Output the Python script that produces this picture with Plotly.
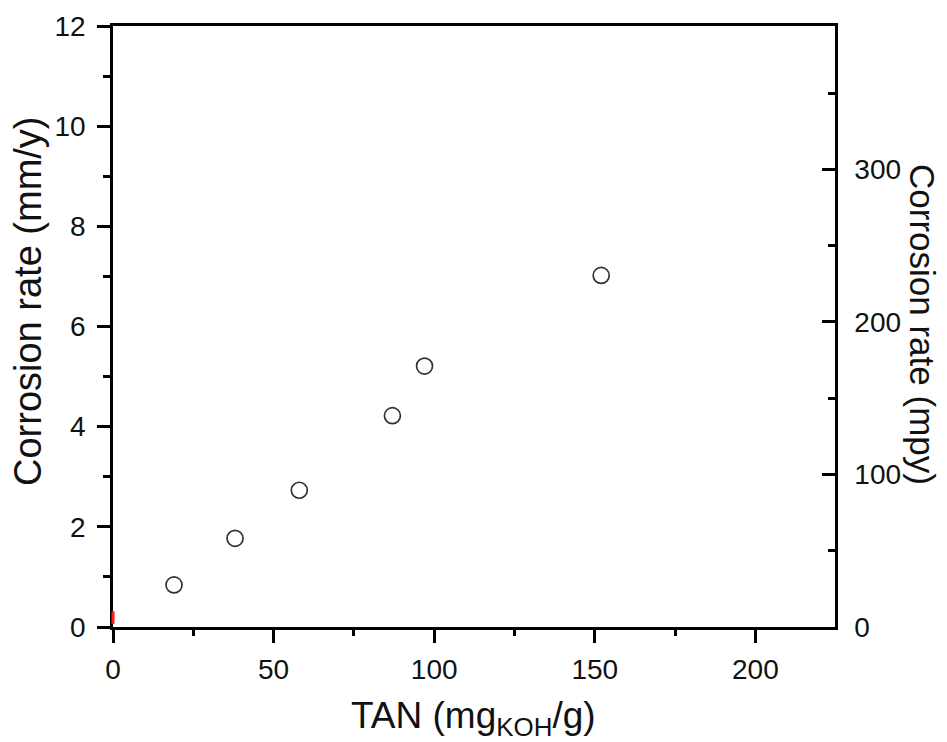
import plotly.graph_objects as go

# Data
tan_values = [19, 38, 58, 87, 97, 152]          # TAN (mgKOH/g)
corrosion_mmy = [0.84, 1.77, 2.73, 4.22, 5.21, 7.02]  # Corrosion rate (mm/y)

red_mark_x = [0]
red_mark_y = [0.19]

x_ticks = [0, 50, 100, 150, 200]
y_ticks = [0, 2, 4, 6, 8, 10, 12]
y2_ticks = [0, 100, 200, 300]

FONT = "Liberation Sans, Arial, sans-serif"
INK = "#111111"
TICK_SIZE = 28

fig = go.Figure()

fig.add_trace(go.Scatter(
    x=tan_values, y=corrosion_mmy, mode="markers",
    marker=dict(symbol="circle-open", size=16, color="#333333",
                line=dict(width=1.7, color="#333333")),
    showlegend=False, cliponaxis=False,
))

fig.add_trace(go.Scatter(
    x=red_mark_x, y=red_mark_y, mode="markers",
    marker=dict(symbol="line-ns", size=9, line=dict(color="#ff1a1a", width=3)),
    showlegend=False, cliponaxis=False,
))

# empty trace to activate the right axis
fig.add_trace(go.Scatter(x=[None], y=[None], yaxis="y2", showlegend=False))

fig.update_layout(
    width=947, height=742,
    margin=dict(l=113, r=112, t=26, b=115),
    paper_bgcolor="white", plot_bgcolor="white",
    font=dict(family=FONT, color=INK, size=TICK_SIZE),
    xaxis=dict(
        range=[0, 224.8], tickvals=x_ticks, showgrid=False, zeroline=False,
        showline=True, linecolor="black", linewidth=2.5, mirror=True,
        ticks="outside", ticklen=13, tickwidth=2.5, tickcolor="black",
        minor=dict(dtick=25, tick0=0, ticks="outside", ticklen=6, tickwidth=2.5, tickcolor="black"),
        tickfont=dict(size=TICK_SIZE, family=FONT, color=INK),
        ticklabelstandoff=3, layer="below traces",
    ),
    yaxis=dict(
        range=[0, 12], tickvals=y_ticks, showgrid=False, zeroline=False,
        showline=True, linecolor="black", linewidth=2.5,
        ticks="outside", ticklen=13, tickwidth=2.5, tickcolor="black",
        minor=dict(dtick=1, tick0=0, ticks="outside", ticklen=7, tickwidth=2.5, tickcolor="black"),
        tickfont=dict(size=TICK_SIZE, family=FONT, color=INK),
        ticklabelstandoff=6, layer="below traces",
    ),
    yaxis2=dict(
        range=[0, 394], tickvals=y2_ticks, overlaying="y", side="right",
        showgrid=False, zeroline=False,
        showline=True, linecolor="black", linewidth=2.5,
        ticks="inside", ticklen=13, tickwidth=2.5, tickcolor="black",
        minor=dict(dtick=50, tick0=0, ticks="inside", ticklen=7, tickwidth=2.5, tickcolor="black"),
        tickfont=dict(size=TICK_SIZE, family=FONT, color=INK),
        ticklabelstandoff=11,
    ),
    annotations=[
        dict(text="TAN (mg<sub>KOH</sub>/g)", xref="paper", yref="paper",
             x=(473.5 - 113) / (947 - 113 - 112), y=-(718 - 627) / (742 - 26 - 115),
             xanchor="center", yanchor="middle", showarrow=False,
             font=dict(size=37, family=FONT, color=INK)),
        dict(text="Corrosion rate (mm/y)", xref="paper", yref="paper",
             x=-(113 - 28) / (947 - 113 - 112), y=(627 - 301) / (742 - 26 - 115),
             xanchor="center", yanchor="middle", textangle=-90, showarrow=False,
             font=dict(size=38, family=FONT, color=INK)),
        dict(text="Corrosion rate (mpy)", xref="paper", yref="paper",
             x=1 + (923 - 835) / (947 - 113 - 112), y=(627 - 324) / (742 - 26 - 115),
             xanchor="center", yanchor="middle", textangle=90, showarrow=False,
             font=dict(size=35, family=FONT, color=INK)),
    ],
)

fig.write_html("out.html")
